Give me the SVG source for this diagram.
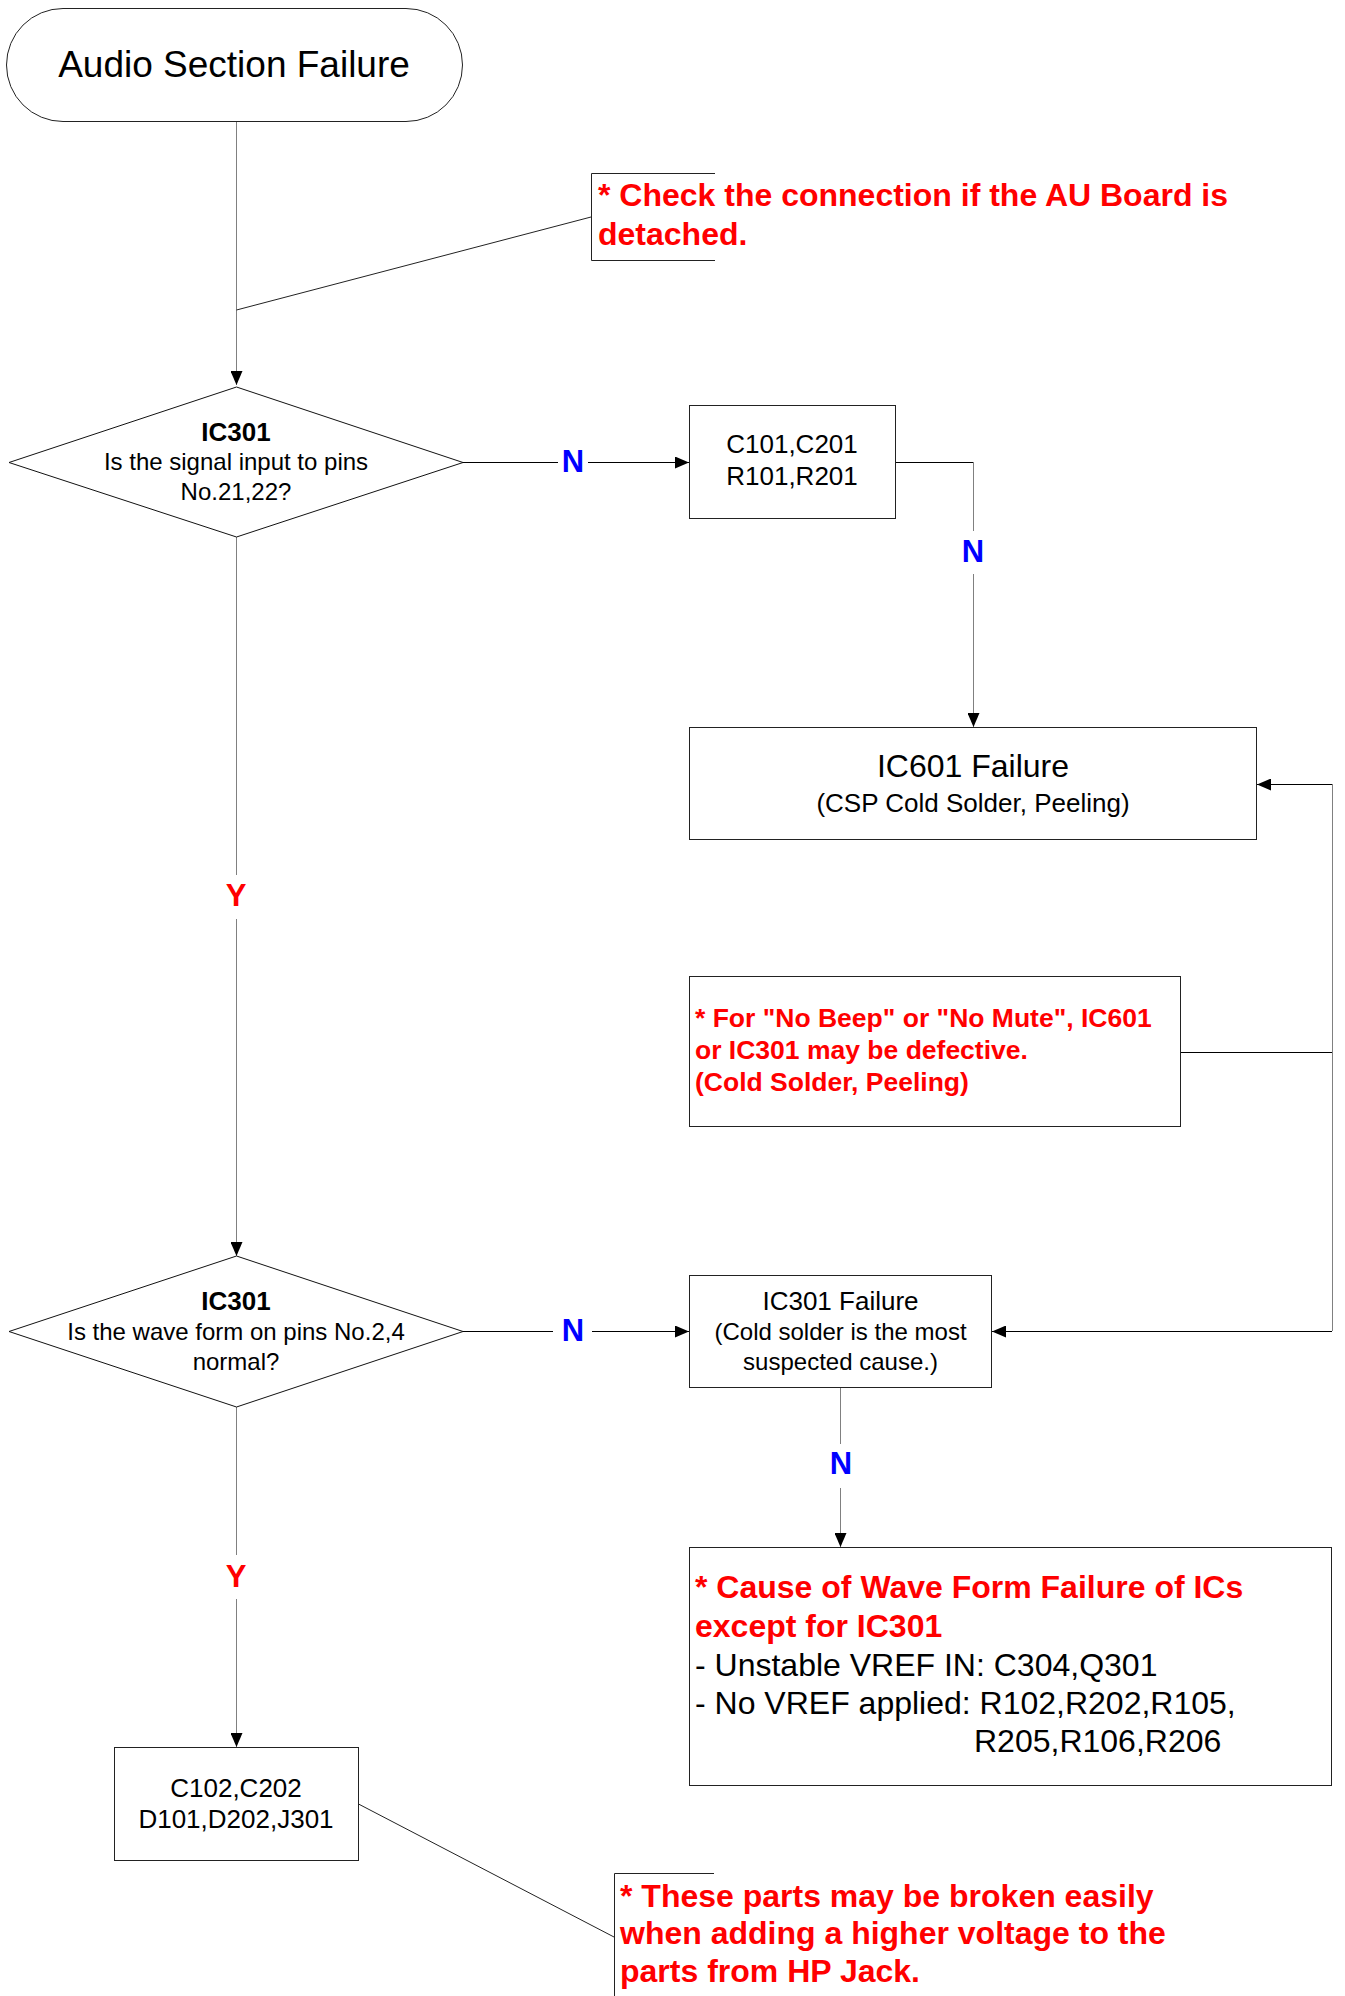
<svg xmlns="http://www.w3.org/2000/svg" width="1345" height="1996" viewBox="0 0 1345 1996">
<style>
.bg{fill:#fff}
.box{fill:#fff;stroke:#222;stroke-width:1}
.dia{fill:#fff;stroke:#111;stroke-width:1}
.h{fill:none;stroke:#000;stroke-width:1}
.v{fill:none;stroke:#808080;stroke-width:1}
.lead{fill:none;stroke:#222;stroke-width:1}
text{font-family:"Liberation Sans",Arial,sans-serif;fill:#000}
.c{text-anchor:middle}
.b{font-weight:bold}
.red{fill:#ff0000;font-weight:bold}
.yn{font-weight:bold;font-size:31px;text-anchor:middle}
.n{fill:#0000ff}
.y{fill:#ff0000}
</style>
<defs>
<marker id="arr" markerUnits="userSpaceOnUse" markerWidth="14" markerHeight="12" refX="14" refY="6" orient="auto">
<path d="M0,0 L14,6 L0,12 Z" fill="#000"/>
</marker>
</defs>
<rect class="bg" x="0" y="0" width="1345" height="1996"/>

<g id="connectors">
<path class="v" d="M236.5,122 V385" marker-end="url(#arr)"/>
<path class="lead" d="M591,217 L236.5,310"/>
<path class="h" d="M462,462.5 H558"/>
<path class="h" d="M588,462.5 H689" marker-end="url(#arr)"/>
<path class="h" d="M895,462.5 H973.5"/>
<path class="v" d="M973.5,462 V531"/>
<path class="v" d="M973.5,574 V727" marker-end="url(#arr)"/>
<path class="v" d="M236.5,537 V875"/>
<path class="v" d="M236.5,919 V1256" marker-end="url(#arr)"/>
<path class="h" d="M1332,784.5 H1257" marker-end="url(#arr)"/>
<path class="v" d="M1332.5,784 V1331"/>
<path class="h" d="M1181,1052.5 H1332"/>
<path class="h" d="M1332,1331.5 H992" marker-end="url(#arr)"/>
<path class="h" d="M463,1331.5 H553"/>
<path class="h" d="M592,1331.5 H689" marker-end="url(#arr)"/>
<path class="v" d="M840.5,1388 V1444"/>
<path class="v" d="M840.5,1488 V1547" marker-end="url(#arr)"/>
<path class="v" d="M236.5,1407 V1555"/>
<path class="v" d="M236.5,1599 V1747" marker-end="url(#arr)"/>
<path class="lead" d="M358.5,1804 L614,1937"/>
<text class="yn n" x="573" y="472">N</text>
<text class="yn n" x="973" y="562">N</text>
<text class="yn y" x="236" y="906">Y</text>
<text class="yn n" x="573" y="1341">N</text>
<text class="yn n" x="841" y="1474">N</text>
<text class="yn y" x="236" y="1587">Y</text>
</g>

<g id="start">
<rect class="box" x="6.5" y="8.5" width="456" height="113" rx="56.5" ry="56.5"/>
<text class="c" x="234" y="77" font-size="37">Audio Section Failure</text>
</g>

<g id="note-au-board">
<path class="lead" d="M715,173.5 H591.5 V260.5 H715"/>
<text class="red" x="598" y="206" font-size="32">* Check the connection if the AU Board is</text>
<text class="red" x="598" y="245" font-size="32">detached.</text>
</g>

<g id="decision-signal">
<polygon class="dia" points="236.5,387 463,462.5 236.5,537 9,462.5"/>
<text class="c b" x="236" y="441" font-size="26">IC301</text>
<text class="c" x="236" y="470" font-size="24">Is the signal input to pins</text>
<text class="c" x="236" y="500" font-size="24">No.21,22?</text>
</g>

<g id="box-c101">
<rect class="box" x="689.5" y="405.5" width="206" height="113"/>
<text class="c" x="792" y="453" font-size="26">C101,C201</text>
<text class="c" x="792" y="485" font-size="26">R101,R201</text>
</g>

<g id="box-ic601">
<rect class="box" x="689.5" y="727.5" width="567" height="112"/>
<text class="c" x="973" y="777" font-size="32">IC601 Failure</text>
<text class="c" x="973" y="812" font-size="26">(CSP Cold Solder, Peeling)</text>
</g>

<g id="note-beep">
<rect class="box" x="689.5" y="976.5" width="491" height="150"/>
<text class="red" x="695" y="1027" font-size="26.5">* For "No Beep" or "No Mute", IC601</text>
<text class="red" x="695" y="1059" font-size="26.5">or IC301 may be defective.</text>
<text class="red" x="695" y="1091" font-size="26.5">(Cold Solder, Peeling)</text>
</g>

<g id="decision-wave">
<polygon class="dia" points="236.5,1256 463,1331.5 236.5,1407 9,1331.5"/>
<text class="c b" x="236" y="1310" font-size="26">IC301</text>
<text class="c" x="236" y="1340" font-size="24">Is the wave form on pins No.2,4</text>
<text class="c" x="236" y="1370" font-size="24">normal?</text>
</g>

<g id="box-ic301">
<rect class="box" x="689.5" y="1275.5" width="302" height="112"/>
<text class="c" x="840.5" y="1310" font-size="26">IC301 Failure</text>
<text class="c" x="840.5" y="1340" font-size="24">(Cold solder is the most</text>
<text class="c" x="840.5" y="1370" font-size="24">suspected cause.)</text>
</g>

<g id="box-cause">
<rect class="box" x="689.5" y="1547.5" width="642" height="238"/>
<text class="red" x="695" y="1598" font-size="32">* Cause of Wave Form Failure of ICs</text>
<text class="red" x="695" y="1637" font-size="32">except for IC301</text>
<text x="695" y="1676" font-size="32">- Unstable VREF IN: C304,Q301</text>
<text x="695" y="1714" font-size="32">- No VREF applied: R102,R202,R105,</text>
<text x="974" y="1752" font-size="32">R205,R106,R206</text>
</g>

<g id="box-c102">
<rect class="box" x="114.5" y="1747.5" width="244" height="113"/>
<text class="c" x="236" y="1797" font-size="26">C102,C202</text>
<text class="c" x="236" y="1828" font-size="26">D101,D202,J301</text>
</g>

<g id="note-hp-jack">
<path class="lead" d="M714,1873.5 H614.5 V1996"/>
<text class="red" x="620" y="1907" font-size="32">* These parts may be broken easily</text>
<text class="red" x="620" y="1944" font-size="32">when adding a higher voltage to the</text>
<text class="red" x="620" y="1982" font-size="32">parts from HP Jack.</text>
</g>
</svg>
